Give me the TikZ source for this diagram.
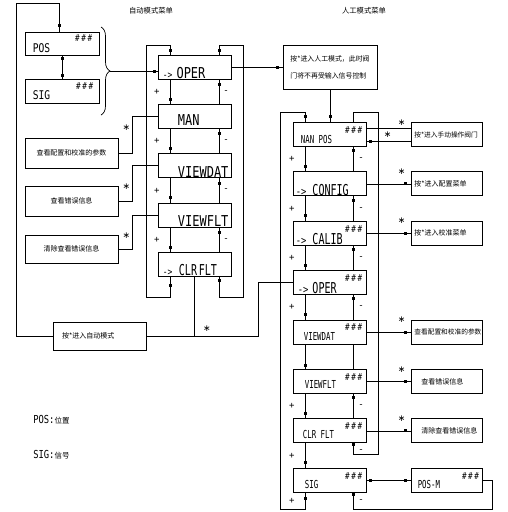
\documentclass[tikz,border=0pt]{standalone}
\usepackage{fontspec}
\usepackage{graphicx}
\newfontfamily\cjk{Noto Sans CJK SC}
\newfontfamily\cad{DejaVu Sans Mono}
\newfontfamily\starfont{DejaVu Sans}
\newcommand\wide[1]{\scalebox{0.8}[1]{#1}}
\newcommand\slim[1]{\scalebox{0.67}[1]{#1}}
\usetikzlibrary{positioning,decorations.pathreplacing}

\tikzset{
	box/.style={draw, rectangle, line width=0.9pt, inner sep=0pt},
	menu/.style={box, minimum width=73pt, minimum height=24pt},
	note/.style={box, font=\cjk\fontsize{7}{9}\selectfont},
	side/.style={note, minimum width=71pt, minimum height=24pt, text width=66pt, align=left},
	sq/.style={fill, rectangle, inner sep=0pt, minimum size=3pt},
	pm/.style={inner sep=0pt, font=\cad\fontsize{9}{9}\selectfont},
	hit/.style={inner sep=0pt, font=\starfont\fontsize{9}{9}\selectfont},
	lbl big/.style={inner sep=0pt, anchor=base west, font=\cad\fontsize{15}{15}\selectfont},
	lbl small/.style={inner sep=0pt, anchor=base west, font=\cad\fontsize{11}{11}\selectfont},
	hash/.style={inner sep=0pt, anchor=north east, font=\cad\fontsize{9.5}{9.5}\selectfont},
	head/.style={inner sep=0pt, font=\cjk\fontsize{7.3}{9}\selectfont}
}

\begin{document}
\begin{tikzpicture}[x=1pt, y=-1pt, line width=0.7pt]
	\useasboundingbox (0,0) rectangle (507,512);
	\coordinate (ml) at (170,0);
	\coordinate (mr) at (219,0);
	\coordinate (rl) at (305,0);
	\coordinate (rr) at (353,0);

	% titles
	\node[head] (autohead) at (151,11) {自动模式菜单};
	\node[head] (manhead) at (364,11) {人工模式菜单};

	% auto menu
	\node[menu] (aoper) at (194.5,67) {};
	\node[menu, below=24.5pt of aoper] (aman) {};
	\node[menu, below=24.5pt of aman] (aview) {};
	\node[menu, below=24.5pt of aview] (aflt) {};
	\node[menu, below=24.5pt of aflt] (aclr) {};
	\node[lbl big] at ([shift={(5,-1)}]aoper.south west) {\wide{{\fontsize{10}{10}\selectfont ->}\hspace{5pt}OPER}};
	\node[lbl big] at ([shift={(20,-3.5)}]aman.south west) {\wide{MAN}};
	\node[lbl big] at ([shift={(20,-1)}]aview.south west) {\wide{VIEWDAT}};
	\node[lbl big] at ([shift={(20,-1.5)}]aflt.south west) {\wide{VIEWFLT}};
	\node[lbl big] at ([shift={(5,-2)}]aclr.south west) {\wide{{\fontsize{10}{10}\selectfont ->}\hspace{8pt}}\slim{CLR\,FLT}};

	\foreach \u/\l in {aoper/aman, aman/aview, aview/aflt, aflt/aclr}{
		\draw (\u.south -| ml) -- node[sq,pos=.8]{} node[pm,left=10pt]{+} (\l.north -| ml);
		\draw (\l.north -| mr) -- node[sq,pos=.8]{} node[pm,right=4pt]{-} (\u.south -| mr);
	}
	\draw (aclr.south -| ml) -- node[sq,pos=.42]{} (170,297) -| (146,45) -- (170,45) -- node[sq,pos=.6]{} (aoper.north -| ml);
	\draw (aoper.north -| mr) -- node[sq,pos=.4]{} (219,45) -| (243,297) -- (219,297) -- node[sq,pos=.83]{} (aclr.south -| mr);

	% position and signal
	\node[box, minimum width=74pt, minimum height=23pt] (posbox) at (62,43.5) {};
	\node[box, minimum width=74pt, minimum height=24pt] (sigbox) at (62,91) {};
	\node[lbl small, font=\cad\fontsize{12}{12}\selectfont] at ([shift={(8,-3)}]posbox.south west) {\wide{POS}};
	\node[lbl small, font=\cad\fontsize{12}{12}\selectfont] at ([shift={(8,-4)}]sigbox.south west) {\wide{SIG}};
	\node[hash] at ([shift={(-7,3)}]posbox.north east) {\wide{\#\kern2pt\#\kern2pt\#}};
	\node[hash] at ([shift={(-6,4)}]sigbox.north east) {\wide{\#\kern2pt\#\kern2pt\#}};
	\draw (posbox) -- node[sq,pos=.12]{} node[sq,pos=.88]{} (sigbox);
	\draw[decorate, decoration={brace, amplitude=9pt}] (101,27) -- (101,115);
	\coordinate (tip) at (110,71);
	\draw (tip) -- node[sq,pos=.93]{} (aoper.west |- tip);

	% left notes
	\node[note, minimum width=93pt, minimum height=30pt] (lviewbox) at (71.5,153) {查看配置和校准的参数};
	\node[note, minimum width=93pt, minimum height=30pt] (lfltbox) at (71.5,201) {查看错误信息};
	\node[note, minimum width=93pt, minimum height=28pt] (lclrbox) at (71.5,249) {清除查看错误信息};
	\draw (lviewbox.east) -| node[hit,pos=.84,left=2pt]{∗} ([xshift=-25pt]aman.west) -- (aman.west);
	\draw (lfltbox.east) -| node[hit,pos=.7,left=2pt]{∗} ([xshift=-25pt]aview.west) -- (aview.west);
	\draw (lclrbox.east) -| node[hit,pos=.7,left=2pt]{∗} ([xshift=-25pt]aflt.west) -- (aflt.west);

	% manual menu
	\node[note, minimum width=94pt, minimum height=44pt, align=left, font=\cjk\fontsize{6.9}{17}\selectfont] (manbox) at (330,67) {按*进入人工模式，此时阀\\门将不再受输入信号控制};
	\draw (aoper) -- node[sq,pos=.9]{} (manbox);
	\node[menu] (mpos) at (329.5,134.5) {};
	\node[menu, below=24.5pt of mpos] (mcfg) {};
	\node[menu, below=24.5pt of mcfg] (mcal) {};
	\node[menu, below=24.5pt of mcal] (moper) {};
	\node[menu, below=24.5pt of moper] (mview) {};
	\node[menu, below=24.5pt of mview] (mflt) {};
	\node[menu, below=24.5pt of mflt] (mclr) {};
	\node[menu, below=24.5pt of mclr] (msig) {};
	\node[lbl small] at ([shift={(8,-3.5)}]mpos.south west) {\slim{NAN POS}};
	\node[lbl big] at ([shift={(3,-1)}]mcfg.south west) {\wide{{\fontsize{11}{11}\selectfont ->}}\hspace{6pt}\slim{CONFIG}};
	\node[lbl big] at ([shift={(3,-1.5)}]mcal.south west) {\wide{{\fontsize{11}{11}\selectfont ->}}\hspace{6pt}\slim{CALIB}};
	\node[lbl big] at ([shift={(5,-2)}]moper.south west) {\wide{{\fontsize{11}{11}\selectfont ->}}\hspace{4pt}\slim{OPER}};
	\node[lbl small] at ([shift={(11,-4.5)}]mview.south west) {\slim{VIEWDAT}};
	\node[lbl small] at ([shift={(12,-5)}]mflt.south west) {\slim{VIEWFLT}};
	\node[lbl small] at ([shift={(10,-4.5)}]mclr.south west) {\slim{CLR FLT}};
	\node[lbl small] at ([shift={(12,-4)}]msig.south west) {\slim{SIG}};
	\draw (manbox.south) -- node[sq,pos=.82]{} (manbox.south |- mpos.north);

	\foreach \u/\l in {mpos/mcfg, mcfg/mcal, mcal/moper, moper/mview, mflt/mclr}{
		\draw (\u.south -| rl) -- node[sq,pos=.8]{} node[pm,left=10pt]{+} (\l.north -| rl);
		\draw (\l.north -| rr) -- node[sq,pos=.85]{} node[pm,right=5pt]{-} (\u.south -| rr);
	}
	\draw (mview.south -| rl) -- node[sq,pos=.84]{} (mflt.north -| rl);
	\draw (mview.south -| rr) -- (mflt.north -| rr);
	\draw (mclr.south -| rl) -- node[sq,pos=.8]{} node[pm,left=10pt]{+} (msig.north -| rl);
	\draw (msig.south -| rl) -- node[sq,pos=.35]{} node[pm,left=10pt]{+} (305,509) -| (280,112) -- (305,112) -- node[sq,pos=.45]{} (mpos.north -| rl);
	\draw (mpos.north -| rr) -- (353,112) -| (378,454) -- (353,454) -- node[sq,pos=.9]{} node[pm,right=5pt,pos=.25]{-} (mclr.south -| rr);

	% right notes
	\node[side, right=45pt of mpos, font=\cjk\fontsize{6.7}{9}\selectfont] (valvebox) {按*进入手动操作阀门};
	\node[side, right=45pt of mcfg] (cfgbox) {按*进入配置菜单};
	\node[side, right=45pt of mcal] (calbox) {按*进入校准菜单};
	\node[side, right=45pt of mview, font=\cjk\fontsize{6.7}{9}\selectfont] (rviewbox) {查看配置和校准的参数};
	\node[side, right=45pt of mflt] (rfltbox) {\hspace*{7pt}查看错误信息};
	\node[side, right=45pt of mclr] (rclrbox) {\hspace*{7pt}清除查看错误信息};
	\node[menu, minimum width=71pt, right=45pt of msig] (posm) {};
	\node[lbl small] at ([shift={(6,-4)}]posm.south west) {\slim{POS-M}};
	\foreach \n in {mpos, mcal, moper, mview, mflt, mclr, msig, posm}
		\node[hash] at ([shift={(-4,4)}]\n.north east) {\wide{\#\kern2pt\#\kern2pt\#}};

	\draw ([yshift=6.5pt]mpos.east) -- node[hit,pos=.78,above=2pt]{∗} ([yshift=6.5pt]valvebox.west);
	\draw ([yshift=-6.5pt]valvebox.west) -- node[hit,pos=.53,above=3pt]{∗} node[sq,pos=.9]{} ([yshift=-6.5pt]mpos.east);
	\foreach \a/\b in {mcfg/cfgbox, mcal/calbox, mview/rviewbox, mflt/rfltbox, mclr/rclrbox}
		\draw (\a) -- node[sq,pos=.87]{} node[hit,pos=.78,above=9pt]{∗} (\b);
	\draw (msig) -- node[sq,pos=.09]{} node[sq,pos=.87]{} (posm);
	\draw (msig.south -| rr) -- node[sq,pos=.13]{} node[pm,right=5pt]{-} (353,509) -| ([xshift=9pt]posm.east) -- (posm.east);

	% auto mode
	\node[note, minimum width=93pt, minimum height=28pt, text width=75pt, align=left] (autobox) at (99.5,336) {按*进入自动模式};
	\draw (autobox.west) -| (16,3) -| node[sq,pos=.9]{} ([xshift=-3pt]posbox.north);
	\draw (autobox.east) -| node[hit,pos=.27,above=4pt]{∗} ([xshift=-34pt]moper.west) -- (moper.west);
	\draw (aclr.south) -- (aclr.south |- autobox.east);

	% legend
	\node[anchor=base west, inner sep=0pt] (legpos) at (33,423) {{\cad\fontsize{11}{11}\selectfont\wide{POS:}}{\cjk\fontsize{7.5}{9}\selectfont 位置}};
	\node[anchor=base west, inner sep=0pt] (legsig) at (33,458) {{\cad\fontsize{11}{11}\selectfont\wide{SIG:}}{\cjk\fontsize{7.5}{9}\selectfont 信号}};
\end{tikzpicture}
\end{document}
